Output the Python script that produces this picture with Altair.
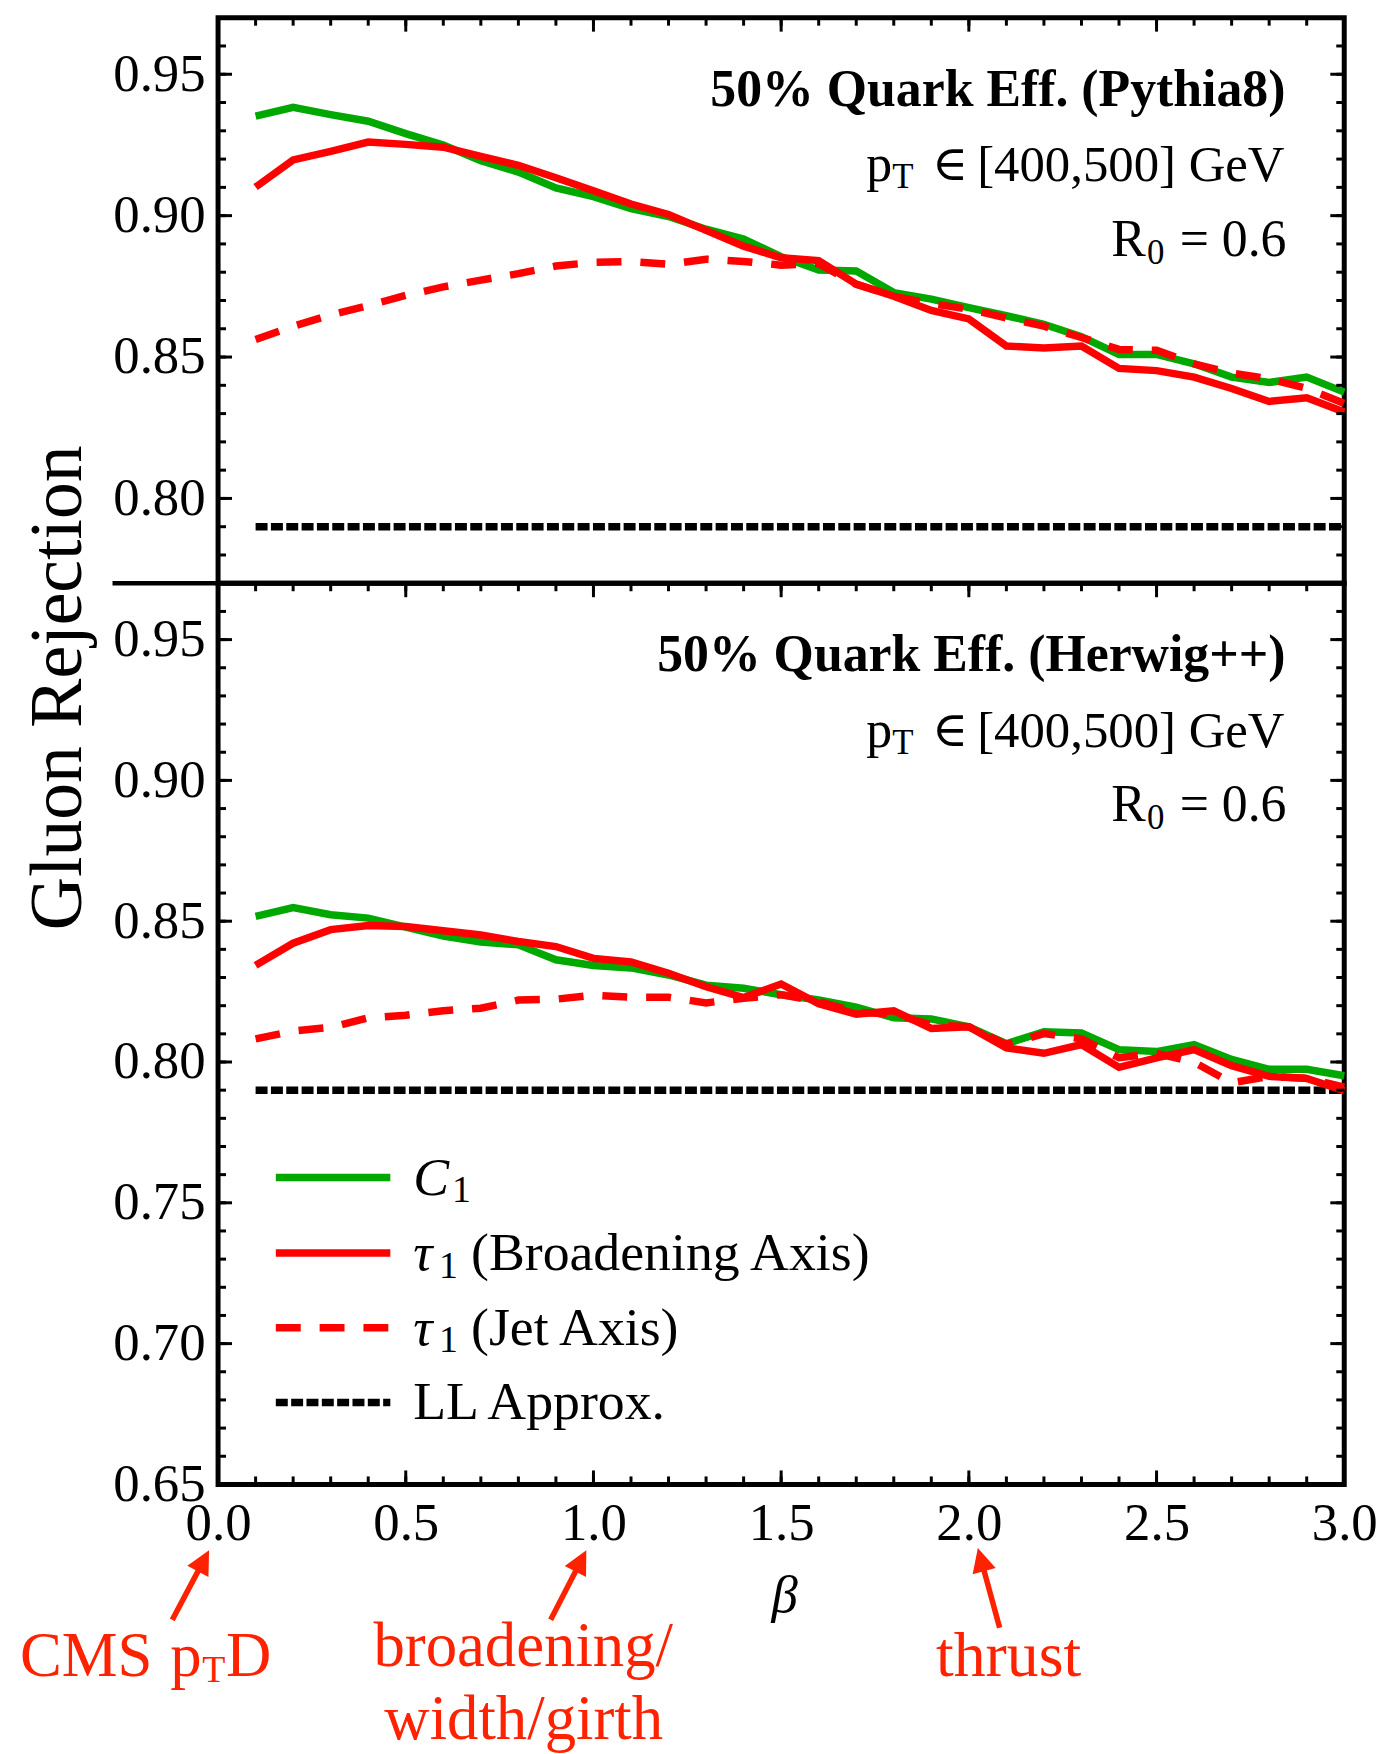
import math
import altair as alt
import pandas as pd

# ---------------- data ----------------
beta = [round(0.1 * i, 1) for i in range(1, 31)]

c1_pythia = [0.9352, 0.9383, 0.9357, 0.9334, 0.9290, 0.9250, 0.9194, 0.9154, 0.9098, 0.9067,
             0.9025, 0.8997, 0.8952, 0.8917, 0.8855, 0.8808, 0.8804, 0.8728, 0.8705, 0.8675,
             0.8646, 0.8616, 0.8572, 0.8509, 0.8509, 0.8476, 0.8429, 0.8410, 0.8429, 0.8376]
tau_broad_pythia = [0.9101, 0.9197, 0.9227, 0.9260, 0.9252, 0.9242, 0.9210, 0.9178, 0.9134, 0.9088,
                    0.9041, 0.9004, 0.8948, 0.8892, 0.8851, 0.8841, 0.8758, 0.8715, 0.8665, 0.8635,
                    0.8539, 0.8532, 0.8539, 0.8460, 0.8452, 0.8429, 0.8389, 0.8343, 0.8356, 0.8306]
tau_jet_pythia = [0.8562, 0.8609, 0.8649, 0.8682, 0.8718, 0.8748, 0.8772, 0.8795, 0.8822, 0.8835,
                  0.8838, 0.8828, 0.8846, 0.8838, 0.8825, 0.8830, 0.8757, 0.8715, 0.8689, 0.8669,
                  0.8638, 0.8609, 0.8569, 0.8527, 0.8524, 0.8476, 0.8443, 0.8423, 0.8389, 0.8336]

c1_herwig = [0.8517, 0.8548, 0.8523, 0.8511, 0.8479, 0.8447, 0.8426, 0.8416, 0.8363, 0.8343,
             0.8334, 0.8309, 0.8273, 0.8262, 0.8239, 0.8220, 0.8195, 0.8157, 0.8153, 0.8125,
             0.8065, 0.8107, 0.8103, 0.8044, 0.8037, 0.8062, 0.8009, 0.7974, 0.7974, 0.7951]
tau_broad_herwig = [0.8343, 0.8422, 0.8470, 0.8485, 0.8481, 0.8466, 0.8451, 0.8428, 0.8410, 0.8368,
                    0.8355, 0.8315, 0.8267, 0.8229, 0.8277, 0.8207, 0.8170, 0.8182, 0.8119, 0.8125,
                    0.8050, 0.8031, 0.8062, 0.7981, 0.8015, 0.8044, 0.7987, 0.7949, 0.7942, 0.7898]
tau_jet_herwig = [0.8082, 0.8110, 0.8123, 0.8157, 0.8166, 0.8182, 0.8191, 0.8220, 0.8223, 0.8237,
                  0.8230, 0.8230, 0.8210, 0.8226, 0.8239, 0.8215, 0.8177, 0.8170, 0.8132, 0.8125,
                  0.8062, 0.8101, 0.8082, 0.8015, 0.8031, 0.7999, 0.7926, 0.7949, 0.7942, 0.7911]

ll_beta = [0.1, 3.0]
ll_level = [0.79, 0.79]

x_labels = [0.0, 0.5, 1.0, 1.5, 2.0, 2.5, 3.0]
y_labels_top = [0.80, 0.85, 0.90, 0.95]
y_labels_bottom = [0.65, 0.70, 0.75, 0.80, 0.85, 0.90, 0.95]
x_minor = [round(0.1 * i, 1) for i in range(0, 31)]
y_minor_top = [round(0.77 + 0.01 * i, 2) for i in range(0, 21)]
y_minor_bottom = [round(0.65 + 0.01 * i, 2) for i in range(0, 33)]

# annotation arrows (beta, gluon-rejection units of the lower panel)
arrow_tail_beta = [-0.122, 0.886, 2.082]
arrow_tail_val = [0.6019, 0.6019, 0.5991]
arrow_tip_beta = [-0.024, 0.981, 2.024]
arrow_tip_val = [0.6266, 0.6266, 0.6274]

# ---------------- styling ----------------
FONT = "Liberation Serif"
GREEN = "#00a800"
RED = "#ff0000"
ANNOT = "#ff2200"
W = 1131
H_TOP = 568
H_BOT = 905
LW = 7.5
DASH = [25, 19]
DOT = [12, 3.4]
MAJ = 14
MIN = 8
FS_TICK = 53
FS = 52
FS_LEG = 54

xs = alt.Scale(domain=[0, 3], nice=False, zero=False)
ys_top = alt.Scale(domain=[0.77, 0.97], nice=False, zero=False)
ys_bot = alt.Scale(domain=[0.65, 0.97], nice=False, zero=False)


def yaxis(vals):
    return alt.Axis(values=vals, format=".2f", ticks=False, tickSize=0, domain=False, grid=False,
                    labelFont=FONT, labelFontSize=FS_TICK, labelColor="black", labelPadding=13,
                    labelFlush=False, labelOverlap=False, title=None)


xaxis_bottom = alt.Axis(values=x_labels, format=".1f", ticks=False, tickSize=0, domain=False,
                        grid=False, labelFont=FONT, labelFontSize=FS_TICK, labelColor="black",
                        labelPadding=13, labelFlush=False, labelOverlap=False, title=None)

yaxis_top = yaxis(y_labels_top)
yaxis_bot = yaxis(y_labels_bottom)


def series_line(bx, vals, color, yscale, xax, yax, dash=None):
    d = pd.DataFrame({"beta": bx, "v": vals})
    kw = dict(color=color, strokeWidth=LW)
    if dash:
        kw["strokeDash"] = dash
    return alt.Chart(d).mark_line(**kw).encode(
        x=alt.X("beta:Q", scale=xs, axis=xax),
        y=alt.Y("v:Q", scale=yscale, axis=yax))


def xticks(vals, length, y0, sign, xax):
    d = pd.DataFrame({"t": vals})
    return alt.Chart(d).mark_rule(color="black", strokeWidth=3).encode(
        x=alt.X("t:Q", scale=xs, axis=xax), y=alt.value(y0), y2=alt.value(y0 + sign * length))


def yticks(vals, yscale, length, x0, sign, yax):
    d = pd.DataFrame({"t": vals})
    return alt.Chart(d).mark_rule(color="black", strokeWidth=3).encode(
        y=alt.Y("t:Q", scale=yscale, axis=yax), x=alt.value(x0), x2=alt.value(x0 + sign * length))


def txt(s, x, y, size=FS, align="left", color="black", weight="normal", style="normal",
        angle=0, font=FONT):
    return alt.Chart(alt.Data(values=[{"s": s}])).mark_text(
        align=align, baseline="alphabetic", font=font, fontSize=size, color=color,
        fontWeight=weight, fontStyle=style, angle=angle
    ).encode(x=alt.value(x), y=alt.value(y), text="s:N")


def hrule(x0, x1, y, color, width, dash=None):
    kw = dict(color=color, strokeWidth=width)
    if dash:
        kw["strokeDash"] = dash
    return alt.Chart(alt.Data(values=[{"a": 0}])).mark_rule(**kw).encode(
        x=alt.value(x0), x2=alt.value(x1), y=alt.value(y))


def corner(x0, x1, y0, y1):
    return alt.Chart(alt.Data(values=[{"a": 0}])).mark_rect(color="white").encode(
        x=alt.value(x0), x2=alt.value(x1), y=alt.value(y0), y2=alt.value(y1))


def info_texts(title):
    return [
        txt(title, 1072, 88.5, size=52, align="right", weight="bold"),
        txt("p", 651, 164),
        txt("T", 677, 171.5, size=35),
        txt("\u2208", 717, 163, size=49, font="DejaVu Serif"),
        txt("[400,500] GeV", 1071, 164, size=51, align="right"),
        txt("R", 897, 239),
        txt("0", 933, 247, size=35),
        txt("= 0.6", 1073, 239, align="right"),
    ]


def frame_ticks(yscale, ymajor, yminor, height, with_bottom, xax, yax):
    layers = [
        xticks(x_minor, MIN, 0, 1, xax), xticks(x_labels, MAJ, 0, 1, xax),
        yticks(yminor, yscale, MIN, 0, 1, yax), yticks(ymajor, yscale, MAJ, 0, 1, yax),
        yticks(yminor, yscale, MIN, W, -1, yax), yticks(ymajor, yscale, MAJ, W, -1, yax),
    ]
    if with_bottom:
        layers += [xticks(x_minor, MIN, height, -1, xax), xticks(x_labels, MAJ, height, -1, xax)]
    return layers


# ---------------- top panel (Pythia8) ----------------
top_layers = [
    corner(-216, -215, -11, -10),
    series_line(ll_beta, ll_level, "black", ys_top, None, yaxis_top, dash=DOT),
    series_line(beta, c1_pythia, GREEN, ys_top, None, yaxis_top),
    series_line(beta, tau_broad_pythia, RED, ys_top, None, yaxis_top),
    series_line(beta, tau_jet_pythia, RED, ys_top, None, yaxis_top, dash=DASH),
] + frame_ticks(ys_top, y_labels_top, y_minor_top, H_TOP, False, None, yaxis_top) + info_texts(
    "50% Quark Eff. (Pythia8)") + [
    txt("Gluon Rejection", -138, 673, size=74, align="center", angle=270),
]
top = alt.layer(*top_layers).properties(width=W, height=H_TOP)

# ---------------- bottom panel (Herwig++) ----------------
sx = W / 3.0
sy = H_BOT / 0.32
rows = []
for tb, tv, pb, pv in zip(arrow_tail_beta, arrow_tail_val, arrow_tip_beta, arrow_tip_val):
    dxp = (pb - tb) * sx
    dyp = -(pv - tv) * sy
    L = math.hypot(dxp, dyp)
    ux, uy = dxp / L, dyp / L
    ang = math.degrees(math.atan2(ux, -uy)) % 360
    cb = pb - 12 * ux / sx
    cv = pv + 12 * uy / sy
    rows.append({"x0": tb, "y0": tv, "x1": cb, "y1": cv, "hx": cb, "hy": cv, "ang": ang})
arrows = pd.DataFrame(rows)

shafts = alt.Chart(arrows).mark_rule(color=ANNOT, strokeWidth=5.5).encode(
    x=alt.X("x0:Q", scale=xs, axis=xaxis_bottom), y=alt.Y("y0:Q", scale=ys_bot, axis=yaxis_bot),
    x2="x1:Q", y2="y1:Q")
heads = alt.Chart(arrows).mark_point(shape="M0,-1L1,1L-1,1Z", filled=True, size=576,
                                     color=ANNOT, opacity=1, strokeWidth=0).encode(
    x=alt.X("hx:Q", scale=xs, axis=xaxis_bottom), y=alt.Y("hy:Q", scale=ys_bot, axis=yaxis_bot),
    angle=alt.Angle("ang:Q", scale=None))

legend_layers = [
    hrule(58, 173, 596.7, GREEN, LW),
    hrule(58, 173, 672.7, RED, LW),
    hrule(58, 173, 747.7, RED, LW, DASH),
    hrule(58, 173, 822.7, "black", LW, DOT),
    txt("C", 196, 614, size=FS_LEG, style="italic"),
    txt("1", 235, 621.5, size=38),
    txt("\u03c4", 196, 690, size=FS_LEG, style="italic"),
    txt("1", 222, 697.5, size=38),
    txt("(Broadening Axis)", 254, 690, size=FS_LEG),
    txt("\u03c4", 196, 765, size=FS_LEG, style="italic"),
    txt("1", 222, 772.5, size=38),
    txt("(Jet Axis)", 254, 765, size=FS_LEG),
    txt("LL Approx.", 196, 839.5, size=FS_LEG),
]

annot_layers = [
    txt("CMS", -199, 1097.5, size=63, color=ANNOT),
    txt("p", -48, 1097.5, size=63, color=ANNOT),
    txt("T", -16, 1103.5, size=38, color=ANNOT),
    txt("D", 8, 1097.5, size=63, color=ANNOT),
    txt("broadening/", 156, 1087, size=63, color=ANNOT),
    txt("width/girth", 167, 1161, size=63, color=ANNOT),
    txt("thrust", 721, 1097.5, size=64, color=ANNOT),
    shafts, heads,
    txt("\u03b2", 569, 1033, size=53, align="center", style="italic"),
]

bottom_layers = [
    series_line(ll_beta, ll_level, "black", ys_bot, xaxis_bottom, yaxis_bot, dash=DOT),
    series_line(beta, c1_herwig, GREEN, ys_bot, xaxis_bottom, yaxis_bot),
    series_line(beta, tau_broad_herwig, RED, ys_bot, xaxis_bottom, yaxis_bot),
    series_line(beta, tau_jet_herwig, RED, ys_bot, xaxis_bottom, yaxis_bot, dash=DASH),
    hrule(-106, 0, 0, "black", 4.5),
] + frame_ticks(ys_bot, y_labels_bottom, y_minor_bottom, H_BOT, True, xaxis_bottom,
                yaxis_bot) + info_texts("50% Quark Eff. (Herwig++)") + legend_layers + annot_layers + [
    corner(1183, 1184, H_BOT + 269, H_BOT + 270),
]
bottom = alt.layer(*bottom_layers).properties(width=W, height=H_BOT)

chart = alt.vconcat(top, bottom, spacing=0, bounds="flush").configure_view(
    stroke="black", strokeWidth=5
).properties(padding=0, background="white")

chart.save("out.html", embed_options={"renderer": "svg", "actions": False})
